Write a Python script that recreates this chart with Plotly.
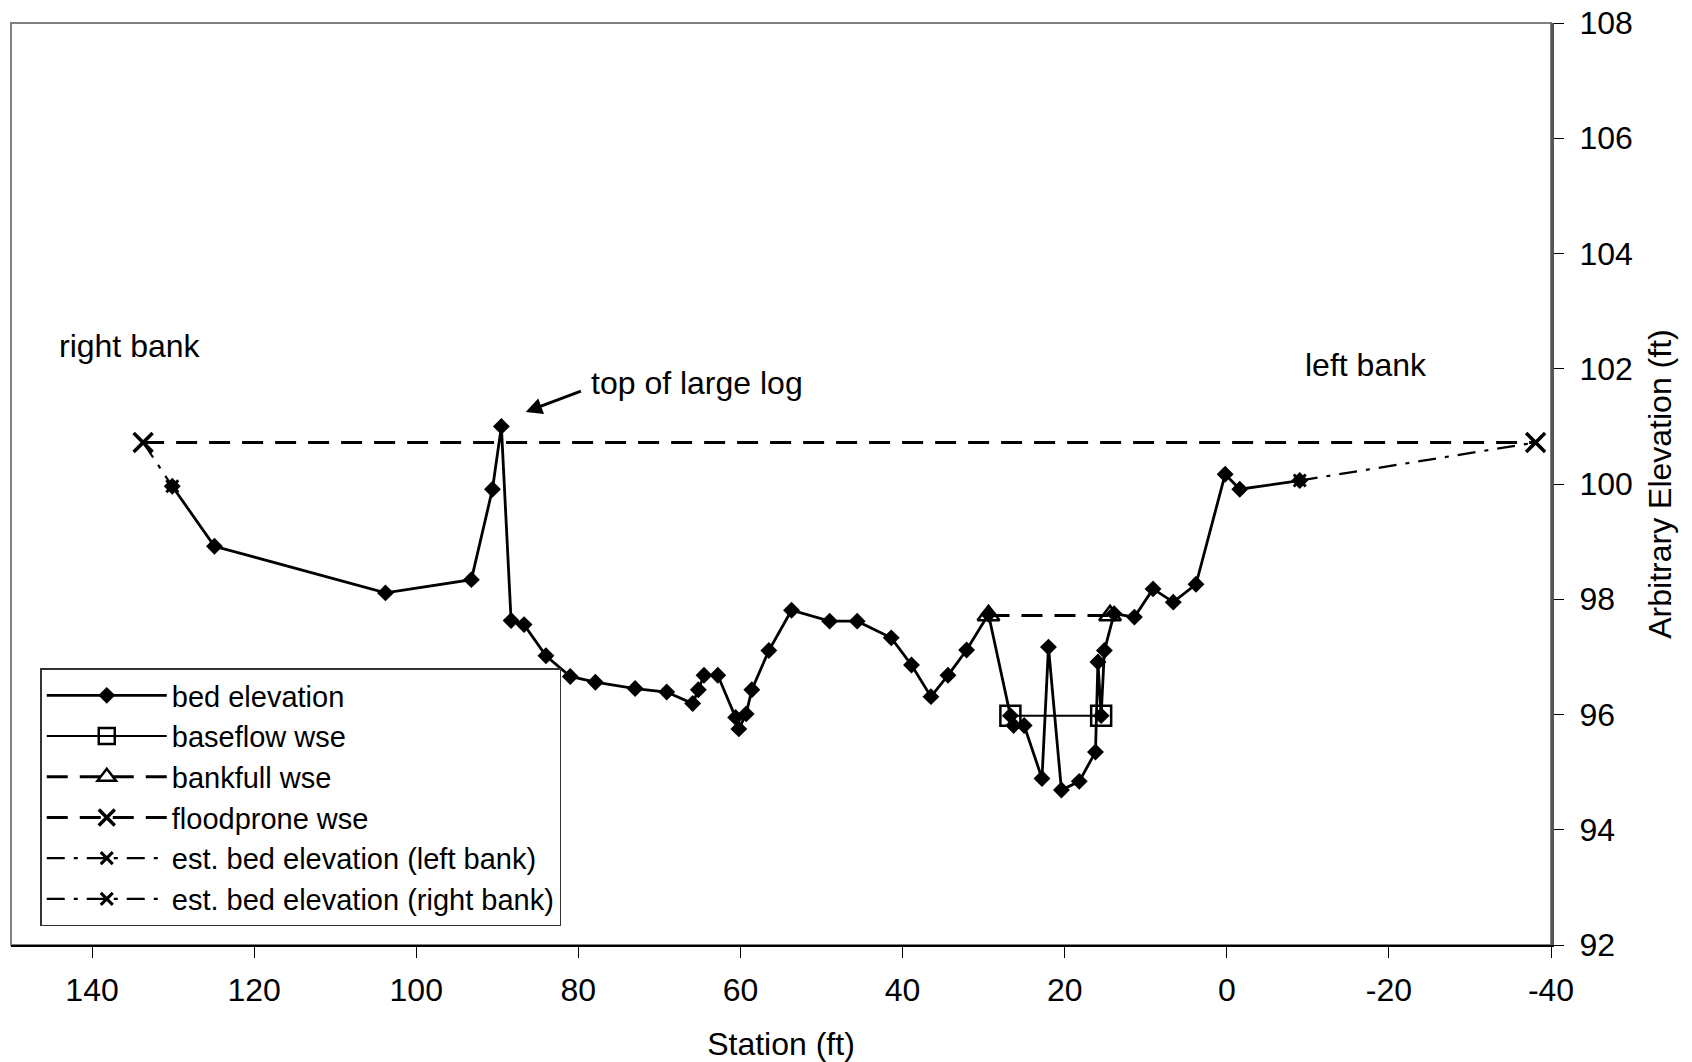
import plotly.graph_objects as go

# station (ft) and elevation (ft)
bed_station = [130.1, 124.9, 103.8, 93.2, 90.6, 89.5, 88.3, 86.7, 84.0, 81.0,
               77.9, 73.0, 69.1, 65.9, 65.2, 64.5, 62.8, 60.6, 60.2, 59.3,
               58.6, 56.5, 53.7, 49.0, 45.6, 41.4, 38.9, 36.5, 34.4, 32.1,
               29.4, 26.7, 26.3, 25.0, 22.8, 22.0, 20.4, 18.2, 16.2, 15.9,
               15.5, 15.1, 13.9, 11.4, 9.1, 6.6, 3.8, 0.2, -1.6, -9.0]
bed_elev = [99.96, 98.92, 98.11, 98.34, 99.91, 101.0, 97.63, 97.56, 97.02, 96.66,
            96.56, 96.45, 96.39, 96.19, 96.43, 96.68, 96.68, 95.95, 95.75, 96.01,
            96.43, 97.11, 97.81, 97.62, 97.62, 97.33, 96.86, 96.31, 96.68, 97.12,
            97.74, 95.98, 95.81, 95.81, 94.89, 97.17, 94.69, 94.84, 95.35, 96.91,
            95.98, 97.11, 97.75, 97.69, 98.18, 97.95, 98.26, 100.17, 99.91, 100.06]

baseflow_station = [26.7, 15.5]
baseflow_elev = [95.98, 95.98]

bankfull_station = [29.4, 14.4]
bankfull_elev = [97.72, 97.72]

floodprone_station = [133.7, -38.1]
floodprone_elev = [100.72, 100.72]

est_left_station = [-9.0, -38.1]
est_left_elev = [100.06, 100.72]

est_right_station = [133.7, 130.1]
est_right_elev = [100.72, 99.96]

x_ticks = [140, 120, 100, 80, 60, 40, 20, 0, -20, -40]
x_tick_text = ['140', '120', '100', '80', '60', '40', '20', '0', '-20', '-40']
y_ticks = [92, 94, 96, 98, 100, 102, 104, 106, 108]

FONT = "Liberation Sans, Arial, sans-serif"
DASH = "21px,12px"
DASHDOT = "18px,9px,4px,9px"

fig = go.Figure()

fig.add_trace(go.Scatter(
    x=bed_station, y=bed_elev, mode='lines+markers', name='bed elevation',
    line=dict(color='black', width=2.8),
    marker=dict(symbol='diamond', size=13, color='black'),
))
fig.add_trace(go.Scatter(
    x=baseflow_station, y=baseflow_elev, mode='lines+markers', name='baseflow wse',
    line=dict(color='black', width=2),
    marker=dict(symbol='square-open', size=20, color='black', line=dict(width=2.5)),
))
fig.add_trace(go.Scatter(
    x=bankfull_station, y=bankfull_elev, mode='lines+markers', name='bankfull wse',
    line=dict(color='black', width=3, dash=DASH),
    marker=dict(symbol='triangle-up-open', size=19, color='black', line=dict(width=2.5)),
))
fig.add_trace(go.Scatter(
    x=floodprone_station, y=floodprone_elev, mode='lines+markers', name='floodprone wse',
    line=dict(color='black', width=3, dash=DASH),
    marker=dict(symbol='x-thin-open', size=19, color='black', line=dict(width=3.5, color='black')),
))
fig.add_trace(go.Scatter(
    x=est_left_station, y=est_left_elev, mode='lines+markers',
    name='est. bed elevation (left bank)',
    line=dict(color='black', width=2.2, dash=DASHDOT),
    marker=dict(symbol='x-thin-open', size=12, color='black', line=dict(width=3, color='black')),
))
fig.add_trace(go.Scatter(
    x=est_right_station, y=est_right_elev, mode='lines+markers',
    name='est. bed elevation (right bank)',
    line=dict(color='black', width=2.2, dash=DASHDOT),
    marker=dict(symbol='x-thin-open', size=12, color='black', line=dict(width=3, color='black')),
))

# frame around the plot area (left and top edges are grey)
fig.add_shape(type='rect', xref='paper', yref='paper', x0=0, x1=1, y0=0, y1=1,
              line=dict(color='#808080', width=2), layer='below')

# annotations
fig.add_annotation(x=86.5, y=101.25, ax=79.5, ay=101.62, xref='x', yref='y',
                   axref='x', ayref='y', text='', showarrow=True,
                   arrowhead=2, arrowsize=1.1, arrowwidth=3, arrowcolor='black')
fig.add_annotation(x=78.7, y=101.75, text='top of large log', showarrow=False,
                   xanchor='left', yanchor='middle', font=dict(size=32))
fig.add_annotation(x=144.3, y=102.4, text='right bank', showarrow=False,
                   xanchor='left', yanchor='middle', font=dict(size=32))
fig.add_annotation(x=-9.4, y=102.06, text='left bank', showarrow=False,
                   xanchor='left', yanchor='middle', font=dict(size=32))

# page body adds an 8px margin, so the figure is offset to compensate
fig.update_layout(
    width=1676, height=1054,
    margin=dict(l=3, r=133, t=15, b=117),
    paper_bgcolor='white', plot_bgcolor='white',
    font=dict(family=FONT, size=32, color='black'),
    showlegend=True,
    legend=dict(
        x=0.019, y=0.16, xanchor='left', yanchor='middle',
        bgcolor='white', bordercolor='#333333', borderwidth=1.5,
        font=dict(size=29), itemwidth=120, tracegroupgap=0,
    ),
    xaxis=dict(
        range=[150, -40], tickmode='array', tickvals=x_ticks, ticktext=x_tick_text,
        ticks='outside', ticklen=11, tickwidth=1, tickcolor='black',
        showline=True, linecolor='black', linewidth=2,
        showgrid=False, zeroline=False, ticklabelstandoff=5, automargin=False,
        ticklabeloverflow='allow',
        title=dict(text='Station (ft)', standoff=28, font=dict(size=32)),
        tickfont=dict(size=32),
    ),
    yaxis=dict(
        range=[92, 108], tickmode='array', tickvals=y_ticks, side='right',
        ticks='outside', ticklen=10, tickwidth=1, tickcolor='black',
        showline=True, linecolor='#555555', linewidth=3,
        showgrid=False, zeroline=False, ticklabelstandoff=9, automargin=False,
        ticklabeloverflow='allow',
        title=dict(text='Arbitrary Elevation (ft)', standoff=17, font=dict(size=32)),
        tickfont=dict(size=32),
    ),
)

fig.write_html("out.html")
